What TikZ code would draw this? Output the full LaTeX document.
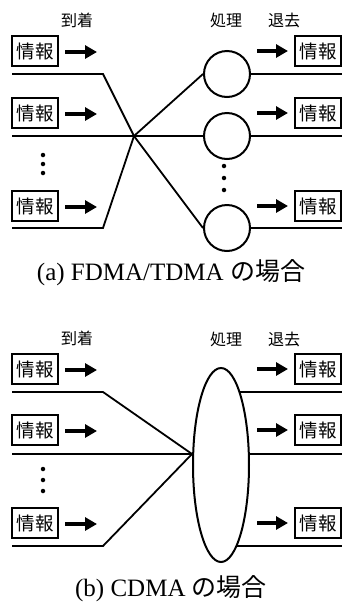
\documentclass[tikz,border=0pt]{standalone}
\usepackage{fontspec}
\setmainfont{Liberation Serif}
\newfontfamily\jp{Noto Sans CJK JP}
\usetikzlibrary{arrows.meta,shapes.geometric}
\pgfdeclarelayer{bg}
\pgfsetlayers{bg,main}
\begin{document}
\begin{tikzpicture}[x=1pt,y=-1pt,
  infobox/.style={draw,line width=1.8pt,minimum width=46pt,minimum height=30pt,inner sep=0pt,font=\jp\fontsize{18.5}{18.5}\selectfont},
  fatarrow/.style={line width=4.5pt,-{Triangle[length=12pt,width=13pt]}},
  wire/.style={line width=1.8pt},
  proc/.style={draw,circle,line width=2pt,minimum size=46pt,inner sep=0pt,fill=white},
  procell/.style={draw,ellipse,line width=2pt,minimum width=56pt,minimum height=194pt,inner sep=0pt,fill=white},
  hdr/.style={font=\jp\fontsize{16}{16}\selectfont},
  captext/.style={font=\fontsize{25}{25}\selectfont},
  dot/.style={circle,fill,inner sep=0pt,minimum size=4.5pt}]
\useasboundingbox (0,0) rectangle (342,606);

% ---------- (a) FDMA/TDMA ----------
\node[hdr] (ha1) at (77,20) {到着};
\node[hdr] (ha2) at (226,20) {処理};
\node[hdr] (ha3) at (284,20) {退去};

\foreach \i/\y in {1/51,2/113,3/206}{
  \node[infobox] (TL\i) at (35,\y) {情報};
  \node[infobox] (TR\i) at (318,\y) {情報};
  \coordinate (TLa\i) at (65,\y+1);
  \coordinate (TLb\i) at (97,\y+1);
  \coordinate (TRa\i) at (257,\y);
  \coordinate (TRb\i) at (288,\y);
  \draw[fatarrow] (TLa\i) -- (TLb\i);
  \draw[fatarrow] (TRa\i) -- (TRb\i);
}

\node[proc] (C1) at (227,74) {};
\node[proc] (C2) at (227,136) {};
\node[proc] (C3) at (227,228) {};

\coordinate (W1s) at (12,74);
\coordinate (W1k) at (103,74);
\coordinate (W2s) at (12,136);
\coordinate (W3s) at (12,228);
\coordinate (W3k) at (103,228);
\coordinate (X) at (134,136);
\coordinate (R1) at (342,74);
\coordinate (R2) at (342,136);
\coordinate (R3) at (342,228);

\draw[wire] (W1s) -- (W1k) -- (X) -- (C3.west);
\draw[wire] (W3s) -- (W3k) -- (X) -- (C1.west);
\draw[wire] (W2s) -- (C2.west);
\draw[wire] (C1.east) -- (R1);
\draw[wire] (C2.east) -- (R2);
\draw[wire] (C3.east) -- (R3);

\node[dot] (dl1) at (43,155) {};
\node[dot] (dl2) at (43,164) {};
\node[dot] (dl3) at (43,173) {};
\node[dot] (dr1) at (224,166) {};
\node[dot] (dr2) at (224,178) {};
\node[dot] (dr3) at (224,190) {};

\node[captext] (capa) at (171,273) {(a) FDMA/TDMA {\jp の場合}};

% ---------- (b) CDMA ----------
\node[hdr] (hb1) at (77,338) {到着};
\node[hdr] (hb2) at (226,339) {処理};
\node[hdr] (hb3) at (284,339) {退去};

\foreach \i/\y in {1/369,2/430,3/523}{
  \node[infobox] (BL\i) at (35,\y) {情報};
  \node[infobox] (BR\i) at (318,\y) {情報};
  \coordinate (BLa\i) at (65,\y+1);
  \coordinate (BLb\i) at (97,\y+1);
  \coordinate (BRa\i) at (257,\y);
  \coordinate (BRb\i) at (288,\y);
  \draw[fatarrow] (BLa\i) -- (BLb\i);
  \draw[fatarrow] (BRa\i) -- (BRb\i);
}

\node[procell] (E) at (221,465) {};

\coordinate (V1s) at (12,392);
\coordinate (V1k) at (103,392);
\coordinate (V2s) at (12,454);
\coordinate (V3s) at (12,546);
\coordinate (V3k) at (103,546);
\coordinate (conv) at (E.west |- V2s);
\coordinate (S1) at (342,392);
\coordinate (S2) at (342,454);
\coordinate (S3) at (342,546);

\draw[wire] (V1s) -- (V1k) -- (conv);
\draw[wire] (V3s) -- (V3k) -- (conv);
\draw[wire] (V2s) -- (conv);
\begin{pgfonlayer}{bg}
\draw[wire] (E.center |- S1) -- (S1);
\draw[wire] (E.center |- S2) -- (S2);
\draw[wire] (E.center |- S3) -- (S3);
\end{pgfonlayer}

\node[dot] (el1) at (43,469) {};
\node[dot] (el2) at (43,480) {};
\node[dot] (el3) at (43,491) {};

\node[captext] (capb) at (171,589) {(b) CDMA {\jp の場合}};
\end{tikzpicture}
\end{document}
